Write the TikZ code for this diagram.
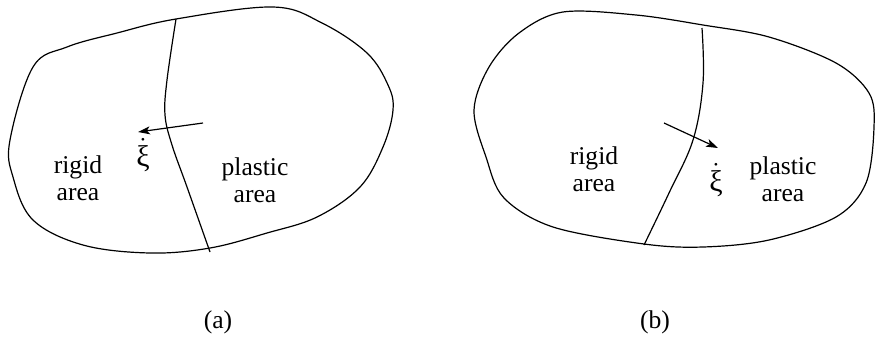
\documentclass[tikz,border=0pt]{standalone}
\usepackage{fontspec}
\setmainfont{Liberation Serif}
\usetikzlibrary{arrows.meta}

\begin{document}
\begin{tikzpicture}[
        x=0.5pt, y=-0.5pt,
        contorno/.style={line width=0.6pt, draw=black},
        frontera/.style={line width=0.6pt, draw=black},
        flecha/.style={-{Stealth[length=6pt, width=4pt, inset=1.5pt]}, line width=0.6pt},
        etiqueta/.style={font=\fontsize{12.8}{13.5}\selectfont, align=center, inner sep=0pt},
        simbolo/.style={font=\fontsize{15}{16}\selectfont, inner sep=0pt}
    ]
        \useasboundingbox (0,0) rectangle (876,338);

        % (a) Cuerpo
        \draw[contorno] plot[smooth cycle, tension=0.6] coordinates {
            (10,140) (33,67) (67,47) (117,33) (176,19) (273,7) (322,23)
            (367,53) (388,85) (393,110) (383,147) (360,187) (317,217)
            (267,233) (210,248) (150,253) (83,245) (33,220) (13,177)};

        % (a) Frontera rigido/plastico
        \draw[frontera] plot[smooth, tension=0.6] coordinates {
            (176,19) (167,80) (165,115) (172,145) (187,187) (210,252)};

        % (a) Velocidad de la frontera
        \coordinate (colaA) at (203,123);
        \coordinate (puntaA) at (138,132);
        \draw[flecha] (colaA) -- (puntaA);
        \node[simbolo] (xiA) at (143,155) {$\dot{\hbox{ξ}}$};

        \node[etiqueta] (rigidaA) at (78,178) {rigid\\area};
        \node[etiqueta] (plasticaA) at (255,180) {plastic\\area};
        \node[etiqueta] (rotuloA) at (218,322) {(a)};

        % (b) Cuerpo
        \draw[contorno] plot[smooth cycle, tension=0.55] coordinates {
            (563,12) (636,15) (703,25) (769,37) (836,63) (869,93) (874,127)
            (866,183) (836,217) (769,240) (703,247) (644,244) (553,227)
            (504,198) (486,157) (474,110) (489,67) (519,33)};

        % (b) Frontera rigido/plastico
        \draw[frontera] plot[smooth, tension=0.6] coordinates {
            (702,28) (703,83) (693,140) (669,193) (644,245)};

        % (b) Velocidad de la frontera
        \coordinate (colaB) at (664,123);
        \coordinate (puntaB) at (718,148);
        \draw[flecha] (colaB) -- (puntaB);
        \node[simbolo] (xiB) at (716,180) {$\dot{\hbox{ξ}}$};

        \node[etiqueta] (rigidaB) at (594,169) {rigid\\area};
        \node[etiqueta] (plasticaB) at (783,179) {plastic\\area};
        \node[etiqueta] (rotuloB) at (655,322) {(b)};
    \end{tikzpicture}
\end{document}
